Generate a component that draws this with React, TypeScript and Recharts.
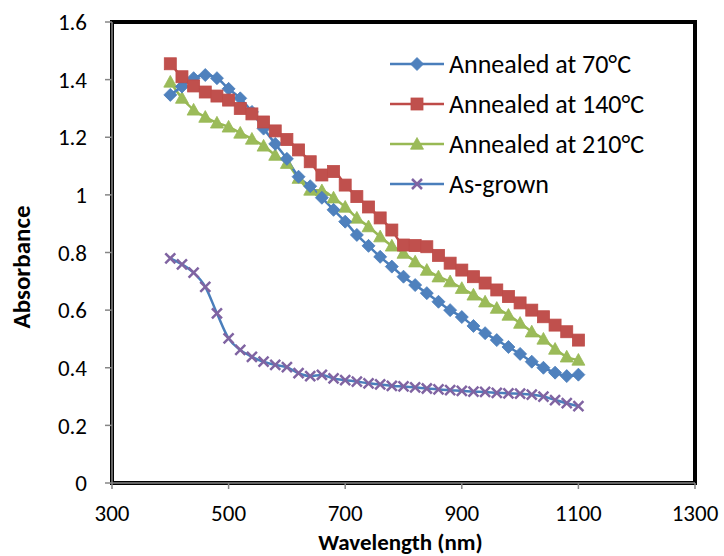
import { LineChart, Line, XAxis, YAxis, ReferenceArea } from 'recharts';

const wavelengths = [
  400, 420, 440, 460, 480, 500, 520, 540, 560, 580, 600, 620, 640, 660, 680, 700, 720, 740,
  760, 780, 800, 820, 840, 860, 880, 900, 920, 940, 960, 980, 1000, 1020, 1040, 1060, 1080, 1100,
];

const annealed70 = [
  1.347, 1.376, 1.405, 1.416, 1.405, 1.368, 1.335, 1.288, 1.23, 1.177, 1.125, 1.063, 1.03, 0.99,
  0.948, 0.907, 0.861, 0.823, 0.785, 0.751, 0.716, 0.687, 0.659, 0.629, 0.6, 0.576, 0.545, 0.52,
  0.496, 0.472, 0.448, 0.421, 0.4, 0.383, 0.371, 0.376,
];

const annealed140 = [
  1.455, 1.41, 1.378, 1.357, 1.343, 1.329, 1.3, 1.281, 1.253, 1.222, 1.192, 1.156, 1.115, 1.069,
  1.081, 1.034, 0.994, 0.958, 0.92, 0.878, 0.826, 0.824, 0.82, 0.79, 0.763, 0.739, 0.716, 0.694,
  0.67, 0.647, 0.625, 0.6, 0.577, 0.548, 0.525, 0.496,
];

const annealed210 = [
  1.392, 1.336, 1.295, 1.27, 1.25, 1.236, 1.215, 1.194, 1.17, 1.138, 1.11, 1.058, 1.017, 1.015,
  0.99, 0.958, 0.92, 0.89, 0.855, 0.823, 0.798, 0.768, 0.739, 0.716, 0.699, 0.676, 0.653, 0.629,
  0.607, 0.583, 0.555, 0.525, 0.5, 0.465, 0.438, 0.427,
];

const asGrown = [
  0.78, 0.759, 0.73, 0.681, 0.589, 0.502, 0.462, 0.438, 0.421, 0.41, 0.402, 0.381, 0.371, 0.375,
  0.363, 0.357, 0.352, 0.346, 0.342, 0.337, 0.335, 0.332, 0.328, 0.325, 0.322, 0.32, 0.317, 0.316,
  0.313, 0.311, 0.31, 0.307, 0.3, 0.288, 0.277, 0.267,
];

const xTicks = [300, 500, 700, 900, 1100, 1300];
const yTicks = [0, 0.2, 0.4, 0.6, 0.8, 1, 1.2, 1.4, 1.6];

const data = wavelengths.map((w, i) => ({
  wavelength: w,
  a70: annealed70[i],
  a140: annealed140[i],
  a210: annealed210[i],
  asGrown: asGrown[i],
}));

const FONT = 'Carlito, Lato, sans-serif';
const BLUE = '#4F81BD';
const BLUE_LINE = '#4A7EBB';
const RED = '#C0504D';
const RED_LINE = '#BE4B48';
const GREEN = '#9BBB59';
const GREEN_LINE = '#98B954';
const PURPLE = '#8064A2';

function Marker({ kind, cx, cy }: { kind: string; cx: number; cy: number }) {
  if (cx == null || cy == null) return null;
  if (kind === 'diamond') {
    const r = 6.5;
    return <path d={`M${cx},${cy - r}L${cx + r},${cy}L${cx},${cy + r}L${cx - r},${cy}Z`} fill={BLUE} stroke={BLUE_LINE} strokeWidth={0.8} />;
  }
  if (kind === 'square') {
    const r = 6;
    return <rect x={cx - r} y={cy - r} width={r * 2} height={r * 2} fill={RED} stroke={RED_LINE} strokeWidth={0.8} />;
  }
  if (kind === 'triangle') {
    const r = 6.5;
    return <path d={`M${cx},${cy - r}L${cx + r},${cy + r * 0.8}L${cx - r},${cy + r * 0.8}Z`} fill={GREEN} stroke={GREEN_LINE} strokeWidth={0.8} />;
  }
  const r = 5;
  return (
    <path d={`M${cx - r},${cy - r}L${cx + r},${cy + r}M${cx + r},${cy - r}L${cx - r},${cy + r}`} stroke={PURPLE} strokeWidth={2.5} fill="none" />
  );
}

const legendItems = [
  { name: 'Annealed at 70°C', line: BLUE_LINE, kind: 'diamond' },
  { name: 'Annealed at 140°C', line: RED_LINE, kind: 'square' },
  { name: 'Annealed at 210°C', line: GREEN_LINE, kind: 'triangle' },
  { name: 'As-grown', line: BLUE_LINE, kind: 'x' },
];

function LegendBox() {
  return (
    <div style={{ position: 'absolute', left: 390, top: 44, fontFamily: FONT, fontSize: 26, color: '#000', lineHeight: 1 }}>
      {legendItems.map((it) => (
        <div key={it.name} style={{ display: 'flex', alignItems: 'center', height: 40 }}>
          <svg width={54} height={20} style={{ display: 'block' }}>
            <line x1={0} x2={54} y1={10} y2={10} stroke={it.line} strokeWidth={2.5} />
            <Marker kind={it.kind} cx={27} cy={10} />
          </svg>
          <span style={{ marginLeft: 5, whiteSpace: 'nowrap' }}>{it.name}</span>
        </div>
      ))}
    </div>
  );
}

function XTitle(props: any) {
  const { viewBox } = props;
  return (
    <text x={viewBox.x + viewBox.width / 2 - 3} y={550} textAnchor="middle" fontFamily={FONT} fontSize={23} fontWeight="bold" fill="#000">
      Wavelength (nm)
    </text>
  );
}

function YTitle() {
  return (
    <text x={0} y={0} transform="translate(30,267) rotate(-90)" textAnchor="middle" fontFamily={FONT} fontSize={25} fontWeight="bold" fill="#000">
      Absorbance
    </text>
  );
}

export default function App() {
  const tickStyle = { fill: '#000', fontSize: 23, fontFamily: FONT };
  return (
    <div style={{ position: 'absolute', left: 0, top: 0, width: 724, height: 556, background: '#fff' }}>
      <LineChart width={724} height={556} data={data} margin={{ top: 22, right: 29, left: 0, bottom: 0 }}>
        <XAxis
          dataKey="wavelength"
          type="number"
          domain={[300, 1300]}
          ticks={xTicks}
          height={73}
          stroke="#868686"
          strokeWidth={1.5}
          tickSize={6}
          tickMargin={16}
          tick={tickStyle}
          label={<XTitle />}
        />
        <YAxis
          type="number"
          domain={[0, 1.6]}
          ticks={yTicks}
          width={112}
          stroke="#868686"
          strokeWidth={1.5}
          tickSize={7}
          tickMargin={18}
          tick={tickStyle}
          label={<YTitle />}
        />
        <ReferenceArea x1={300} x2={1300} y1={0} y2={1.6} fill="none" stroke="#000" strokeWidth={4} ifOverflow="visible" />
        <Line type="monotone" dataKey="asGrown" name="As-grown" stroke={BLUE_LINE} strokeWidth={2.5} isAnimationActive={false}
          dot={(p: any) => <Marker key={`x${p.index}`} kind="x" cx={p.cx} cy={p.cy} />} />
        <Line type="monotone" dataKey="a210" name="Annealed at 210°C" stroke={GREEN_LINE} strokeWidth={2.5} isAnimationActive={false}
          dot={(p: any) => <Marker key={`t${p.index}`} kind="triangle" cx={p.cx} cy={p.cy} />} />
        <Line type="monotone" dataKey="a70" name="Annealed at 70°C" stroke={BLUE_LINE} strokeWidth={2.5} isAnimationActive={false}
          dot={(p: any) => <Marker key={`d${p.index}`} kind="diamond" cx={p.cx} cy={p.cy} />} />
        <Line type="monotone" dataKey="a140" name="Annealed at 140°C" stroke={RED_LINE} strokeWidth={2.5} isAnimationActive={false}
          dot={(p: any) => <Marker key={`s${p.index}`} kind="square" cx={p.cx} cy={p.cy} />} />
      </LineChart>
      <LegendBox />
    </div>
  );
}
